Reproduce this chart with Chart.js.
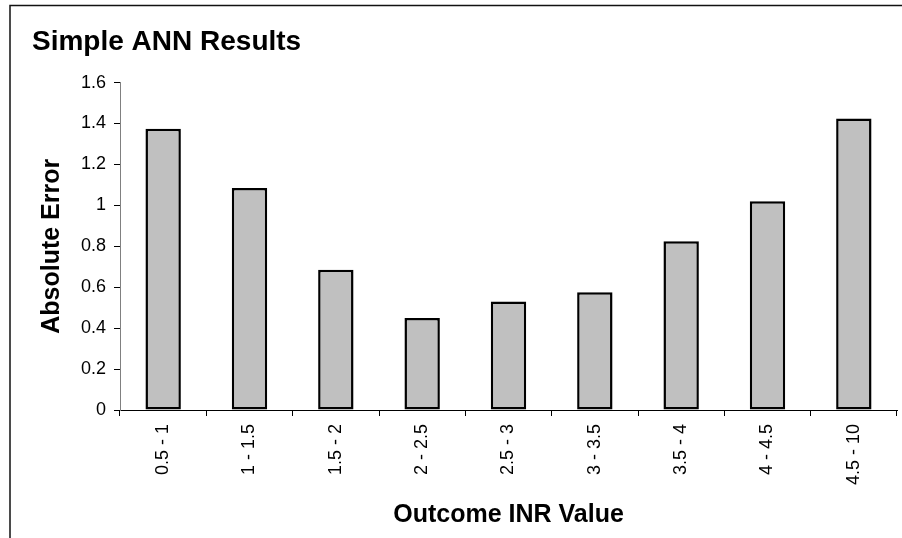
<!DOCTYPE html>
<html>
<head>
<meta charset="utf-8">
<script src="https://cdn.jsdelivr.net/npm/chart.js@4/dist/chart.umd.min.js"></script>
<style>
  html, body { margin: 0; padding: 0; background: #fff; }
  #wrap { position: relative; width: 902px; height: 538px; }
</style>
</head>
<body>
<div id="wrap"><canvas id="chart" width="902" height="538"></canvas></div>
<script>
// INR outcome bands and the mean absolute error of the simple ANN in each band
const categories = ['0.5 - 1', '1 - 1.5', '1.5 - 2', '2 - 2.5', '2.5 - 3', '3 - 3.5', '3.5 - 4', '4 - 4.5', '4.5 - 10'];
const absoluteError = [1.375, 1.085, 0.685, 0.45, 0.53, 0.575, 0.825, 1.02, 1.425];
const yTicks = [0, 0.2, 0.4, 0.6, 0.8, 1, 1.2, 1.4, 1.6];

const FONT = "'Liberation Sans', Arial, sans-serif";

// Open frame around the chart (left and top edges)
const framePlugin = {
  id: 'frame',
  beforeDraw(chart) {
    const ctx = chart.ctx;
    ctx.save();
    ctx.strokeStyle = '#111';
    ctx.lineWidth = 1.5;
    ctx.beginPath();
    ctx.moveTo(10, chart.height);
    ctx.lineTo(10, 5.5);
    ctx.lineTo(chart.width, 5.5);
    ctx.stroke();
    ctx.restore();
  }
};

new Chart(document.getElementById('chart'), {
  type: 'bar',
  data: {
    labels: categories,
    datasets: [{
      data: absoluteError,
      backgroundColor: '#c0c0c0',
      borderColor: '#000000',
      borderWidth: 2.5,
      borderSkipped: false,
      barPercentage: 0.41,
      categoryPercentage: 1
    }]
  },
  options: {
    responsive: false,
    animation: false,
    layout: { padding: { left: 32, right: 5, top: 0, bottom: 0 } },
    plugins: {
      legend: { display: false },
      tooltip: { enabled: false },
      title: {
        display: true,
        text: 'Simple ANN Results',
        align: 'start',
        color: '#000',
        font: { family: FONT, size: 28, weight: 'bold' },
        padding: { top: 25, bottom: 24 }
      }
    },
    scales: {
      x: {
        offset: true,
        border: { display: true, color: '#000', width: 1 },
        grid: { offset: true, drawOnChartArea: false, drawTicks: true, tickLength: 6, color: '#000' },
        ticks: {
          color: '#000',
          font: { family: FONT, size: 18 },
          minRotation: 90,
          maxRotation: 90,
          padding: 8,
          autoSkip: false
        },
        title: {
          display: true,
          text: 'Outcome INR Value',
          color: '#000',
          font: { family: FONT, size: 25, weight: 'bold' },
          padding: { top: 0, bottom: 8 }
        },
        afterFit(scale) { scale.height = 128; }
      },
      y: {
        min: 0,
        max: 1.6,
        border: { display: true, color: '#808080', width: 1 },
        grid: { drawOnChartArea: false, drawTicks: true, tickLength: 6, color: '#000' },
        afterBuildTicks(scale) { scale.ticks = yTicks.map(v => ({ value: v })); },
        ticks: {
          color: '#000',
          font: { family: FONT, size: 18 },
          padding: 8,
          callback: v => String(Number(v.toFixed(1)))
        },
        title: {
          display: true,
          text: 'Absolute Error',
          color: '#000',
          font: { family: FONT, size: 25, weight: 'bold' },
          padding: { top: 5, bottom: 0 }
        },
        afterFit(scale) { scale.width = 88; }
      }
    }
  },
  plugins: [framePlugin]
});
</script>
</body>
</html>
